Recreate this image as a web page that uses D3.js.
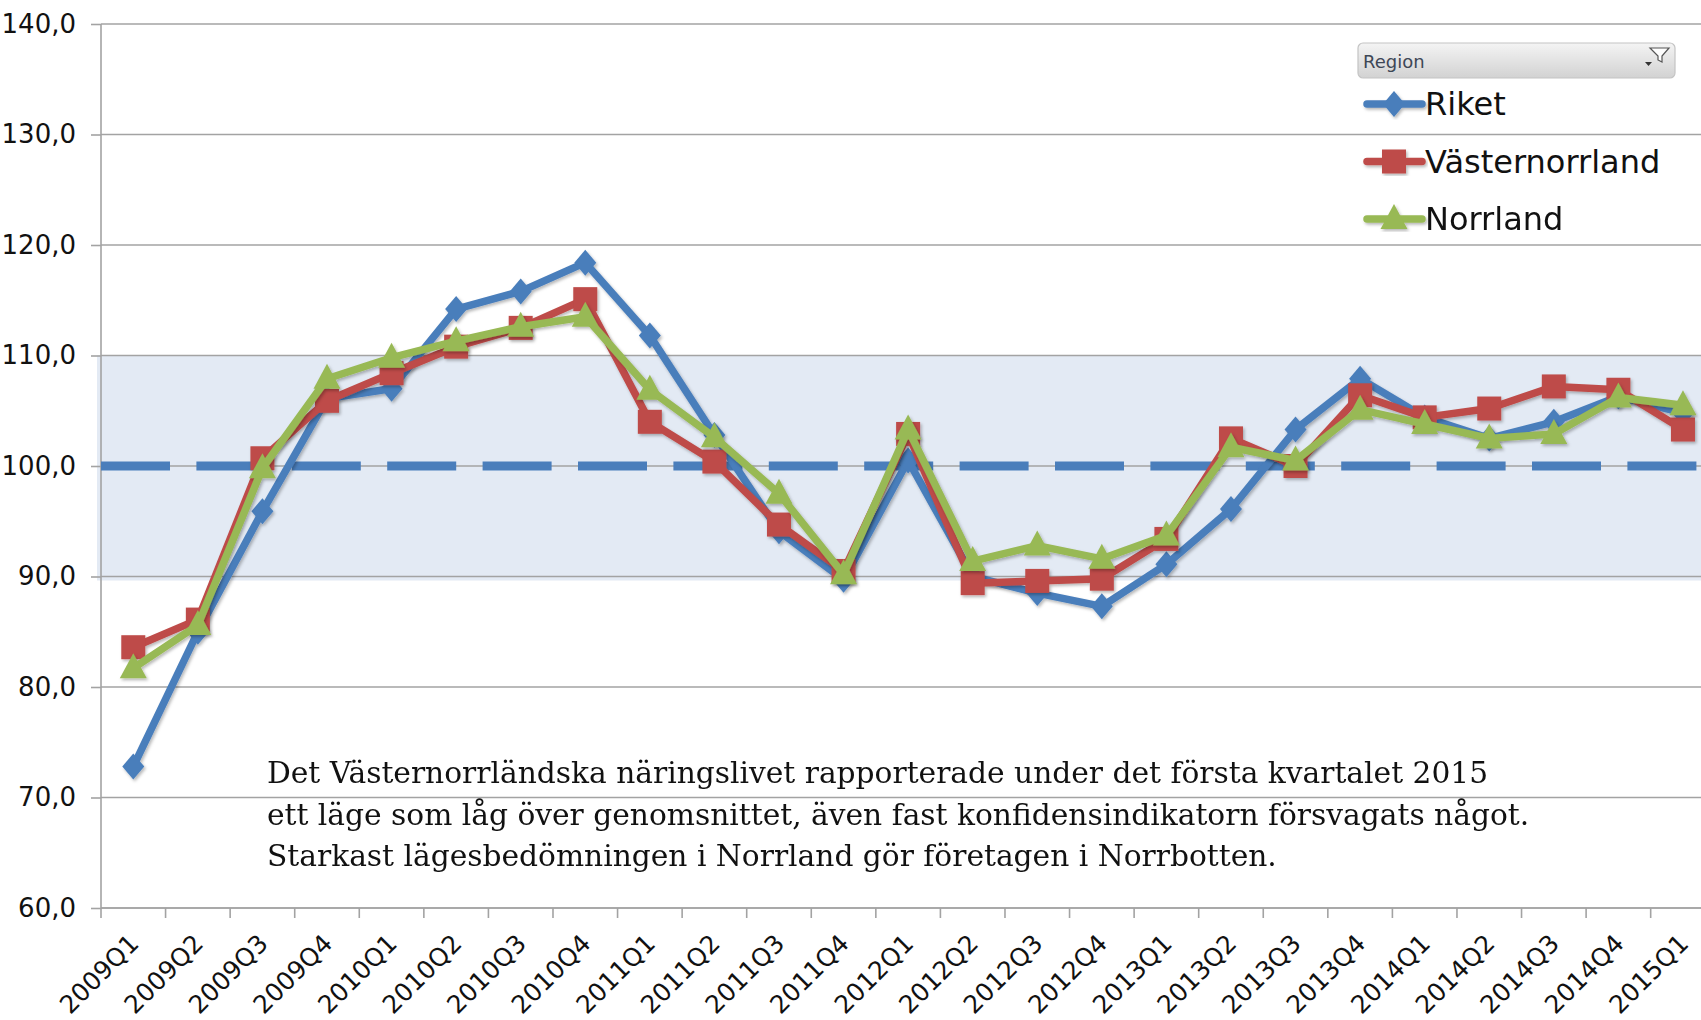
<!DOCTYPE html>
<html>
<head>
<meta charset="utf-8">
<script src="https://cdn.jsdelivr.net/npm/d3@7"></script>
<style>
  html, body { margin: 0; padding: 0; background: #fff; }
  svg { display: block; }
</style>
</head>
<body>
<svg id="chart" width="1701" height="1020"></svg>
<script>
// ---------------- DATA ----------------
const categories = ["2009Q1","2009Q2","2009Q3","2009Q4","2010Q1","2010Q2","2010Q3","2010Q4",
  "2011Q1","2011Q2","2011Q3","2011Q4","2012Q1","2012Q2","2012Q3","2012Q4",
  "2013Q1","2013Q2","2013Q3","2013Q4","2014Q1","2014Q2","2014Q3","2014Q4","2015Q1"];
const riket = [72.8, 85.0, 95.9, 106.1, 107.0, 114.2, 115.8, 118.4,
  111.8, 102.8, 94.1, 89.7, 100.5, 90.0, 88.5, 87.3,
  91.1, 96.1, 103.3, 107.9, 104.4, 102.5, 104.0, 106.3, 104.8];
const vasternorrland = [83.6, 86.1, 100.7, 105.9, 108.4, 110.8, 112.5, 115.1,
  104.0, 100.4, 94.7, 90.5, 102.9, 89.4, 89.6, 89.8,
  93.4, 102.5, 100.0, 106.4, 104.4, 105.2, 107.2, 106.9, 103.3];
const norrland = [81.7, 85.6, 99.8, 107.9, 109.8, 111.3, 112.6, 113.5,
  106.9, 102.6, 97.5, 90.2, 103.3, 91.4, 92.8, 91.6,
  93.7, 101.7, 100.5, 105.1, 103.8, 102.5, 102.9, 106.2, 105.5];
const seriesNames = ["Riket", "Västernorrland", "Norrland"];
const yTicks = [60, 70, 80, 90, 100, 110, 120, 130, 140];
const referenceValue = 100;
const bandRange = [90, 110];
const legendTitle = "Region";
const noteLines = [
  "Det Västernorrländska näringslivet rapporterade under det första kvartalet 2015",
  "ett läge som låg över genomsnittet, även fast konfidensindikatorn försvagats något.",
  "Starkast lägesbedömningen i Norrland gör företagen i Norrbotten."
];

// ---------------- LAYOUT ----------------
const W = 1701, H = 1020;
const plotLeft = 101, plotTop = 24, plotBottom = 908;
const band = 64.57;
const colors = ["#4a7ebb", "#be4b48", "#98b954"];
const sans = "'DejaVu Sans', sans-serif";

const svg = d3.select("#chart");
const defs = svg.append("defs");
const f = defs.append("filter").attr("id", "shadow").attr("x", "-10%").attr("y", "-10%").attr("width", "120%").attr("height", "120%");
f.append("feDropShadow").attr("dx", 1.5).attr("dy", 2).attr("stdDeviation", 1.6)
  .attr("flood-color", "#000").attr("flood-opacity", 0.28);
const g1 = defs.append("linearGradient").attr("id", "hdr").attr("x1", 0).attr("y1", 0).attr("x2", 0).attr("y2", 1);
g1.append("stop").attr("offset", "0%").attr("stop-color", "#f4f4f4");
g1.append("stop").attr("offset", "100%").attr("stop-color", "#d2d2d2");

const x = d3.scaleBand().domain(categories).range([plotLeft, plotLeft + band * categories.length]).padding(0);
const y = d3.scaleLinear().domain([60, 140]).range([plotBottom, plotTop]);
const cx = d => x(d) + x.bandwidth() / 2;

// shaded band 90-110
svg.append("rect")
  .attr("x", plotLeft - 4).attr("y", y(bandRange[1]))
  .attr("width", W - plotLeft + 4).attr("height", y(bandRange[0]) - y(bandRange[1]) + 4)
  .attr("fill", "#e3eaf4");

// gridlines
svg.append("g").selectAll("line").data(yTicks).join("line")
  .attr("x1", plotLeft).attr("x2", W)
  .attr("y1", d => y(d)).attr("y2", d => y(d))
  .attr("stroke", "#a3a3a3").attr("stroke-width", 1.6);

// y axis
const yAxis = d3.axisLeft(y).tickValues(yTicks).tickSize(10).tickPadding(15)
  .tickFormat(d => d3.format(".1f")(d).replace(".", ","));
const ya = svg.append("g").attr("transform", `translate(${plotLeft},0)`).call(yAxis);
ya.select(".domain").attr("stroke", "#a3a3a3").attr("stroke-width", 1.6).attr("d", `M0,${plotTop}V${plotBottom}`);
ya.selectAll(".tick line").attr("stroke", "#a3a3a3").attr("stroke-width", 1.6);
ya.selectAll("text").attr("font-family", sans).attr("font-size", 26).attr("fill", "#111");

// x axis: boundary ticks + rotated labels
const xg = svg.append("g");
xg.append("line").attr("x1", plotLeft).attr("x2", W).attr("y1", plotBottom).attr("y2", plotBottom)
  .attr("stroke", "#a3a3a3").attr("stroke-width", 1.6);
xg.selectAll("line.tk").data(categories).join("line").attr("class", "tk")
  .attr("x1", d => x(d)).attr("x2", d => x(d))
  .attr("y1", plotBottom).attr("y2", plotBottom + 10)
  .attr("stroke", "#a3a3a3").attr("stroke-width", 1.6);
xg.selectAll("text").data(categories).join("text")
  .attr("transform", d => `translate(${cx(d) + 7},${plotBottom + 37}) rotate(-45)`)
  .attr("text-anchor", "end")
  .attr("font-family", sans).attr("font-size", 25).attr("fill", "#111")
  .text(d => d);

// reference dashed line at 100
svg.append("line")
  .attr("x1", plotLeft).attr("x2", W)
  .attr("y1", y(referenceValue)).attr("y2", y(referenceValue))
  .attr("stroke", "#4a7ebb").attr("stroke-width", 9)
  .attr("stroke-dasharray", "69,26.4");

// series
const allSeries = [riket, vasternorrland, norrland];
const line = d3.line().x((d, i) => cx(categories[i])).y(d => y(d));
function marker(sel, type, color) {
  if (type === 0) {
    sel.append("path").attr("d", "M0,-13L11,0L0,13L-11,0Z").attr("fill", color);
  } else if (type === 1) {
    sel.append("rect").attr("x", -12).attr("y", -12).attr("width", 24).attr("height", 24).attr("fill", color);
  } else {
    sel.append("path").attr("d", "M0,-15L13.5,10L-13.5,10Z").attr("fill", color);
  }
}
allSeries.forEach((vals, si) => {
  const g = svg.append("g").attr("filter", "url(#shadow)");
  g.append("path").datum(vals).attr("d", line)
    .attr("fill", "none").attr("stroke", colors[si]).attr("stroke-width", 7.5)
    .attr("stroke-linejoin", "round");
  vals.forEach((v, i) => {
    const m = g.append("g").attr("transform", `translate(${cx(categories[i])},${y(v)})`);
    marker(m, si, colors[si]);
  });
});

// legend
const lg = svg.append("g");
lg.append("rect").attr("x", 1358).attr("y", 43).attr("width", 317).attr("height", 35)
  .attr("rx", 5).attr("fill", "url(#hdr)").attr("stroke", "#c4c4c4").attr("stroke-width", 1.2);
lg.append("text").attr("x", 1363).attr("y", 68).attr("font-family", sans).attr("font-size", 18)
  .attr("fill", "#3e4756").text(legendTitle);
// filter icon
lg.append("path").attr("d", "M1650,48L1669,48L1662,56L1662,62L1658,60L1658,56Z").attr("fill", "#fdfdfd").attr("stroke", "#555").attr("stroke-width", 1.2);
lg.append("path").attr("d", "M1645,62L1652,62L1648.5,66Z").attr("fill", "#333");
seriesNames.forEach((name, si) => {
  const cy = 104 + si * 57.5;
  const r = lg.append("g").attr("filter", "url(#shadow)");
  r.append("line").attr("x1", 1367).attr("x2", 1422).attr("y1", cy).attr("y2", cy)
    .attr("stroke", colors[si]).attr("stroke-width", 7.5).attr("stroke-linecap", "round");
  const m = r.append("g").attr("transform", `translate(1394,${cy})`);
  marker(m, si, colors[si]);
  lg.append("text").attr("x", 1425).attr("y", cy + 11).attr("font-family", sans).attr("font-size", 32)
    .attr("fill", "#111").text(name);
});

// annotation
const note = svg.append("g");
const noteText = note.selectAll("text").data(noteLines).join("text")
  .attr("x", 267).attr("y", (d, i) => 783 + i * 41.5)
  .attr("font-family", "'DejaVu Serif', serif").attr("font-size", 28).attr("fill", "#111")
  .text(d => d);
// fit font size so that second line spans the same width as the reference
const w2 = noteText.nodes()[1].getComputedTextLength();
const fs = 28 * 1263 / w2;
noteText.attr("font-size", fs);
</script>
</body>
</html>
